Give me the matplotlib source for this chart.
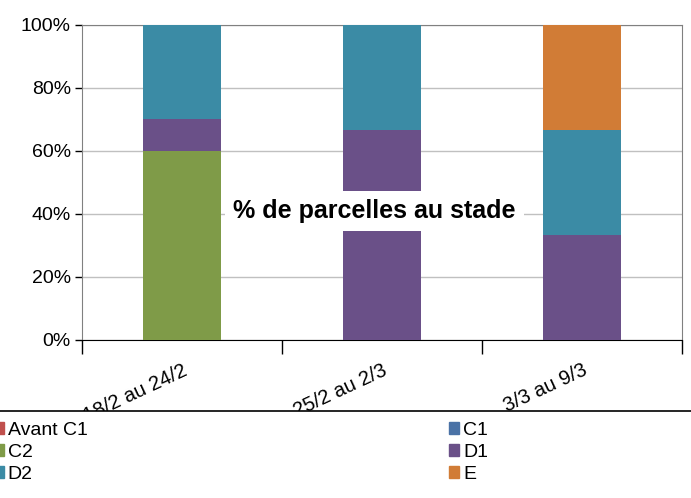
import numpy as np
import matplotlib
matplotlib.use('Agg')
import matplotlib.pyplot as plt
from matplotlib.patches import Rectangle, Patch

plt.rcParams['font.family'] = ['Liberation Sans', 'DejaVu Sans']

periods = ['18/2 au 24/2', '25/2 au 2/3', '3/3 au 9/3']
stages = ['Avant C1', 'C1', 'C2', 'D1', 'D2', 'E']
colors = ['#C0504D', '#4A72A6', '#7F9B48', '#6A5088', '#3B8BA5', '#D17C36']

avant_c1 = [0, 0, 0]
c1 = [0, 0, 0]
c2 = [60, 0, 0]
d1 = [10, 66.7, 33.3]
d2 = [30, 33.3, 33.3]
e = [0, 0, 33.3]
values = [avant_c1, c1, c2, d1, d2, e]

fig = plt.figure(figsize=(6.91, 4.98), dpi=100)
ax = fig.add_axes([0.1187, 0.3173, 0.987 - 0.1187, 0.9498 - 0.3173])

x = np.arange(len(periods))
bottom = np.zeros(len(periods))
for name, vals, col in zip(stages, values, colors):
    ax.bar(x, vals, 0.39, bottom=bottom, color=col, label=name, zorder=3)
    bottom += np.array(vals)

ax.set_xlim(-0.5, 2.5)
ax.set_ylim(0, 100)
ax.set_yticks(np.arange(0, 101, 20))
ax.set_yticklabels([f'{v}%' for v in range(0, 101, 20)], fontsize=14)
ax.yaxis.grid(True, color='#c0c0c0', linewidth=1, zorder=0)
ax.tick_params(axis='y', length=5, width=1, color='black', pad=3)

ax.set_xticks(x)
ax.set_xticklabels(periods, rotation=25, ha='right', rotation_mode='anchor', fontsize=14.5)
ax.tick_params(axis='x', which='major', length=0, pad=15)
ax.set_xticks([-0.5, 0.5, 1.5, 2.5], minor=True)
ax.tick_params(axis='x', which='minor', length=10, width=1, color='black')

for s in ['top', 'right', 'left']:
    ax.spines[s].set_color('#808080')
ax.spines['bottom'].set_color('black')

ax.text(0.96, 41, '% de parcelles au stade', fontsize=18, fontweight='bold',
        ha='center', va='center', zorder=5,
        bbox=dict(facecolor='white', edgecolor='none', pad=6))

# white area under the legend line hides the cut part of the labels
fig.patches.append(Rectangle((0, 0), 1, (498 - 411) / 498, transform=fig.transFigure,
                             facecolor='white', edgecolor='none', zorder=4))
fig.add_artist(plt.Line2D([0, 1], [(498 - 411) / 498] * 2, transform=fig.transFigure,
                          color='black', linewidth=1.2, zorder=4.5))

handles = [Patch(color=colors[i]) for i in [0, 2, 4, 1, 3, 5]]
labels = [stages[i] for i in [0, 2, 4, 1, 3, 5]]
leg = fig.legend(handles, labels, loc='upper left', bbox_to_anchor=(-0.031, (498 - 406) / 498),
                 ncol=2, frameon=False, fontsize=14, handlelength=0.5, handleheight=0.6,
                 handletextpad=0.2, columnspacing=18.6, labelspacing=0.27, borderpad=0.3)
leg.set_zorder(6)

plt.savefig('out.png', dpi=100)
